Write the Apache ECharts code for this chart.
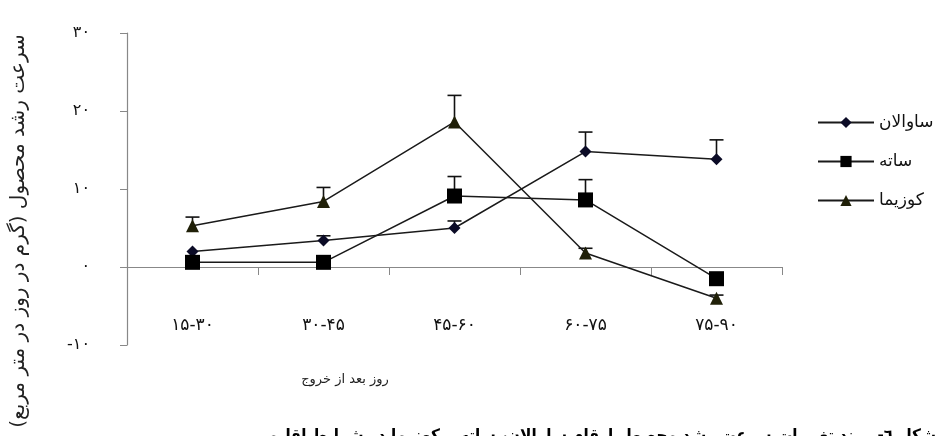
<!DOCTYPE html>
<html>
<head>
<meta charset="utf-8">
<script src="https://cdn.jsdelivr.net/npm/echarts@6/dist/echarts.min.js"></script>
<style>
  html, body { margin: 0; padding: 0; background: #fff; }
  #chart { width: 940px; height: 436px; }
</style>
</head>
<body>
<div id="chart"></div>
<script>
// Growth stages (days after emergence)
const categories = ['۱۵-۳۰', '۳۰-۴۵', '۴۵-۶۰', '۶۰-۷۵', '۷۵-۹۰'];

// Crop growth rate per cultivar
const savalan = [2.0, 3.4, 5.0, 14.8, 13.8];
const sateh   = [0.6, 0.6, 9.1, 8.6, -1.5];
const kozima  = [5.3, 8.4, 18.6, 1.8, -4.0];

// Upper error (standard error) per cultivar
const savalanErr = [0, 0.6, 0.9, 2.5, 2.5];
const satehErr   = [0, 0, 2.5, 2.6, 0];
const kozimaErr  = [1.1, 1.8, 3.4, 0.6, 0.4];

// Value axis tick labels
const yTickLabels = { '-10': '-۱۰', '0': '۰', '10': '۱۰', '20': '۲۰', '30': '۳۰' };

const seriesNames = ['ساوالان', 'ساته', 'کوزیما'];
const yAxisTitle = 'سرعت رشد محصول (گرم در روز در متر مربع)';
const xAxisTitle = 'روز بعد از خروج';
const caption = 'شکل ٦- روند تغییرات سرعت رشد محصول ارقام ساوالان، ساته و کوزیما در شرایط اقلیمی';

const FONT = '"DejaVu Sans", "Noto Sans", sans-serif';
const FONT_NARROW = '"DejaVu Sans Condensed", "DejaVu Sans", sans-serif';

function errorSeries(values, errs) {
  return {
    type: 'custom',
    z: 1,
    silent: true,
    data: values.map((v, i) => [i, v, errs[i]]),
    renderItem: function (params, api) {
      const i = api.value(0), v = api.value(1), e = api.value(2);
      if (!(e > 0)) return null;
      const p0 = api.coord([i, v]);
      const p1 = api.coord([i, v + e]);
      const style = { stroke: '#111', lineWidth: 1.6 };
      return {
        type: 'group',
        children: [
          { type: 'line', shape: { x1: p0[0], y1: p0[1], x2: p1[0], y2: p1[1] }, style: style },
          { type: 'line', shape: { x1: p1[0] - 7, y1: p1[1], x2: p1[0] + 7, y2: p1[1] }, style: style }
        ]
      };
    }
  };
}

function lineSeries(name, values, symbol, size, color) {
  return {
    name: name,
    type: 'line',
    z: 3,
    data: values,
    symbol: symbol,
    symbolSize: size,
    itemStyle: { color: color },
    lineStyle: { color: '#1a1a1a', width: 1.5 },
    emphasis: { disabled: true }
  };
}

const chart = echarts.init(document.getElementById('chart'));
chart.setOption({
  animation: false,
  backgroundColor: '#fff',
  textStyle: { fontFamily: FONT },
  grid: { left: 127, top: 33, right: 158, bottom: 91 },
  legend: {
    orient: 'vertical',
    left: 812,
    top: 109,
    itemWidth: 56,
    itemHeight: 14,
    itemGap: 22,
    data: seriesNames,
    textStyle: { fontFamily: FONT, fontSize: 17, color: '#111', lineHeight: 16 }
  },
  xAxis: [
    {
      // axis line through zero with boundary ticks
      type: 'category',
      data: categories,
      boundaryGap: true,
      axisLine: { onZero: true, lineStyle: { color: '#888', width: 1.2 } },
      axisTick: { show: true, length: 8, inside: false, lineStyle: { color: '#888' } },
      axisLabel: { show: false },
      splitLine: { show: false }
    },
    {
      // category labels sitting low in the plot
      type: 'category',
      data: categories,
      position: 'bottom',
      offset: -36,
      axisLine: { show: false, onZero: false },
      axisTick: { show: false },
      axisLabel: { margin: 8, fontSize: 17, color: '#111', fontFamily: FONT },
      splitLine: { show: false }
    }
  ],
  yAxis: {
    type: 'value',
    min: -10,
    max: 30,
    interval: 10,
    axisLine: { show: true, lineStyle: { color: '#888', width: 1.2 } },
    axisTick: { show: true, length: 7, lineStyle: { color: '#888' } },
    axisLabel: {
      margin: 37,
      fontSize: 16,
      color: '#111',
      fontFamily: FONT,
      formatter: v => yTickLabels[String(v)] || ''
    },
    splitLine: { show: false }
  },
  graphic: [
    {
      type: 'text',
      x: 19, y: 231,
      rotation: Math.PI / 2,
      style: {
        text: yAxisTitle, fontFamily: FONT, fontSize: 20, fill: '#222',
        align: 'center', verticalAlign: 'middle'
      }
    },
    {
      type: 'text',
      x: 345, y: 380,
      style: {
        text: xAxisTitle, fontFamily: FONT, fontSize: 13, fill: '#222',
        align: 'center', verticalAlign: 'middle'
      }
    },
    {
      type: 'text',
      x: 936, y: 437,
      style: {
        text: caption, fontFamily: FONT_NARROW, fontSize: 17, fontWeight: 'bold', fill: '#000',
        align: 'right', verticalAlign: 'middle'
      }
    }
  ],
  series: [
    errorSeries(savalan, savalanErr),
    errorSeries(sateh, satehErr),
    errorSeries(kozima, kozimaErr),
    lineSeries(seriesNames[0], savalan, 'diamond', 12, '#0b0b26'),
    lineSeries(seriesNames[1], sateh, 'rect', 15, '#000000'),
    lineSeries(seriesNames[2], kozima, 'triangle', 13, '#202008')
  ]
});
</script>
</body>
</html>
